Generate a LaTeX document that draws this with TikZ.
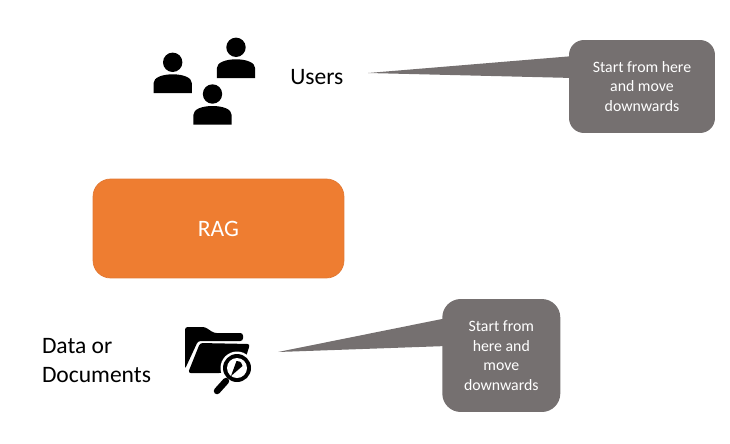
\documentclass[tikz,border=0pt]{standalone}
\usepackage{fontspec}
\setmainfont{Carlito}
\usepackage{tikz}
\definecolor{ragorange}{RGB}{238,125,49}
\definecolor{ragedge}{RGB}{226,120,50}
\definecolor{notegray}{RGB}{117,112,112}
\tikzset{
  notebox/.style={fill=notegray, text=white, rounded corners=#1, align=center, font=\fontsize{9}{11.1}\selectfont, inner sep=0pt},
  labeltext/.style={font=\fontsize{13.4}{16.6}\selectfont, align=left, inner sep=0pt},
  person/.pic={
    \fill (0,-12) circle (9.7);
    \fill (-19.2,18.7) -- (-19.2,9) .. controls (-19.2,3) and (-10,0) .. (0,0) .. controls (10,0) and (19.2,3) .. (19.2,9) -- (19.2,18.7) -- cycle;
  }
}

\begin{document}
\begin{tikzpicture}[x=0.02cm, y=-0.02cm]
\useasboundingbox (0,0) rectangle (730,443);

% Users row
\pic at (172.7,74.3) {person};
\pic at (236,59.3) {person};
\pic at (212.5,106) {person};
\node[labeltext] (users) at (316.8,77.5) {Users};

% Top note and its tail
\coordinate (userstip) at (368,73);
\node[notebox=8.5pt, minimum width=2.92cm, minimum height=1.86cm] (usersnote) at (642,86.5) {Start from here\\and move\\downwards};
\fill[notegray] (userstip) -- ([xshift=0.1cm,yshift=0.61cm]usersnote.west) -- ([xshift=0.1cm,yshift=0.17cm]usersnote.west) -- cycle;

% Middle block
\node[draw=ragedge, fill=ragorange, text=white, rounded corners=10pt, minimum width=5.02cm, minimum height=1.98cm, font=\fontsize{13.4}{16}\selectfont] (rag) at (218.5,228.5) {RAG};

% Data row
\node[labeltext] (data) at (96.5,360.5) {Data or\\Documents};

% Folder icon with lens
\fill[rounded corners=1.5pt] (185,327) -- (205,327) -- (214,333) -- (243,333) -- (243,341) -- (198,341) -- (185,369) -- cycle;
\fill[rounded corners=1.5pt] (200,343) -- (250,344) -- (245,360) -- (222,373) -- (188,373) -- cycle;
\fill[white] (237,368) circle (16.5);
\fill (237,368) circle (14);
\fill[white] (237,368) circle (10);
\fill (231,376) -- (236.5,361) .. controls (241,361) and (242.5,364) .. (242.5,366) -- cycle;
\draw[line width=3.7pt, line cap=round] (226,381) -- (217,391);

% Bottom note and its tail
\coordinate (datatip) at (278,352);
\node[notebox=10.5pt, minimum width=2.36cm, minimum height=2.26cm] (datanote) at (501.3,355.5) {Start from\\here and\\move\\downwards};
\fill[notegray] (datatip) -- ([xshift=0.1cm,yshift=0.75cm]datanote.west) -- ([xshift=0.1cm,yshift=0.19cm]datanote.west) -- cycle;
\end{tikzpicture}
\end{document}
